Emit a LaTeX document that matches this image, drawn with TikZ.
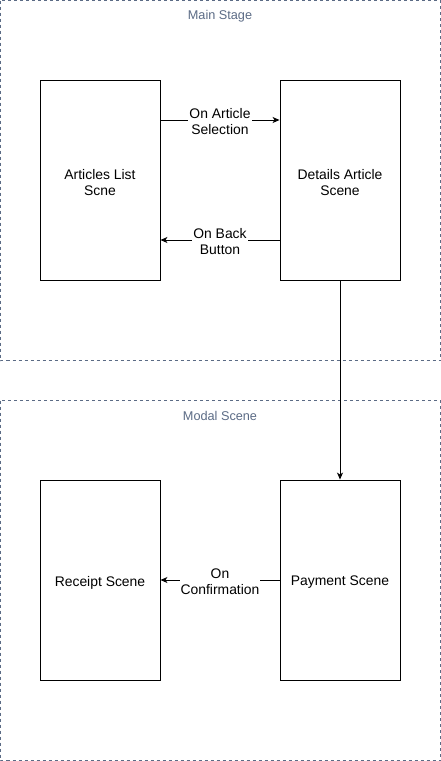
\documentclass[tikz,border=0pt]{standalone}
\usepackage{fontspec}
\setmainfont{Liberation Sans}
\usetikzlibrary{arrows.meta}
\definecolor{grpcol}{HTML}{5B6B85}
\begin{document}
\begin{tikzpicture}[x=1pt,y=-1pt,
  grp/.style={draw=grpcol,dashed,dash pattern=on 3pt off 3pt,line width=0.8pt},
  grptitle/.style={text=grpcol,font=\fontsize{12.7}{15}\selectfont,inner sep=0pt},
  scenebox/.style={draw=black,line width=0.9pt,fill=white,minimum width=120pt,minimum height=200pt,inner sep=0pt},
  scenetext/.style={align=center,font=\fontsize{13.9}{16}\selectfont,inner sep=0pt,yshift=-2.5pt},
  conn/.style={draw=black,line width=0.9pt,-{Stealth[length=7pt,width=6pt,inset=2pt]}},
  lbl/.style={fill=white,align=center,font=\fontsize{13.9}{16}\selectfont,inner sep=1pt,yshift=-2pt}]
\useasboundingbox (0,0) rectangle (441,761);
\draw[grp] (0.5,0.5) rectangle (440.5,360.5);
\draw[grp] (0.5,400.5) rectangle (440.5,760.5);
\node[grptitle] (t1) at (220,16) {Main Stage};
\node[grptitle] (t2) at (220,416) {Modal Scene};
\node[scenebox] (al) at (100,180) {};
\node[scenetext] (alt) at (al.center) {Articles List\\Scne};
\node[scenebox] (da) at (340,180) {};
\node[scenetext] (dat) at (da.center) {Details Article\\Scene};
\node[scenebox] (rs) at (100,580) {};
\node[scenetext] (rst) at (rs.center) {Receipt Scene};
\node[scenebox] (ps) at (340,580) {};
\node[scenetext] (pst) at (ps.center) {Payment Scene};
\draw[conn] (al.east |- 0,120) -- node[lbl] {On Article\\Selection} (da.west |- 0,120);
\draw[conn] (da.west |- 0,240) -- node[lbl] {On Back\\Button} (al.east |- 0,240);
\draw[conn] (da.south) -- (ps.north);
\draw[conn] (ps.west) -- node[lbl] {On\\Confirmation} (rs.east);
\end{tikzpicture}
\end{document}
